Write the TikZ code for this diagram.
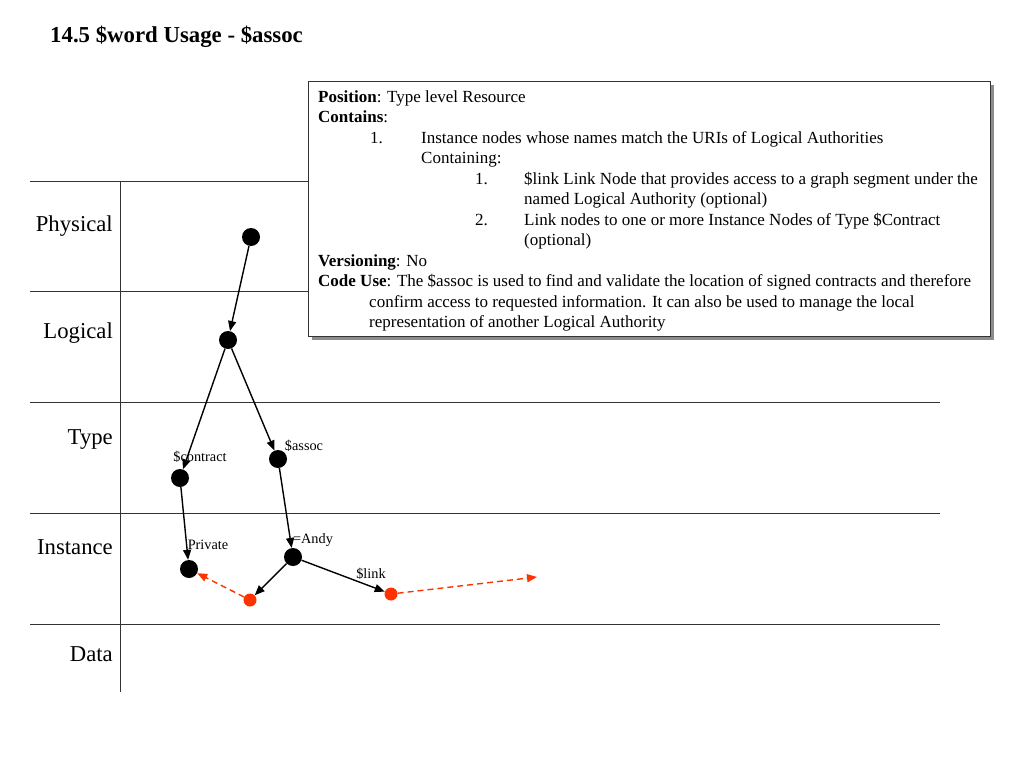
\documentclass[tikz,border=0pt]{standalone}
\usepackage{fontspec}
\setmainfont{Liberation Serif}
\usetikzlibrary{arrows.meta}
\definecolor{redn}{HTML}{FF3300}
\begin{document}
\begin{tikzpicture}[x=1pt,y=-1pt,
  lane/.style={draw=black!80,line width=0.9pt},
  lanelabel/.style={anchor=east,inner sep=0pt,font=\fontsize{22.7}{26}\selectfont},
  dot/.style={circle,fill=black,inner sep=0pt,minimum size=18pt},
  rdot/.style={circle,fill=redn,inner sep=0pt,minimum size=13pt},
  edge/.style={draw=black,line width=1.4pt,-{Triangle[length=10pt,width=8pt]}},
  redge/.style={draw=redn,line width=1.4pt,dash pattern=on 6pt off 4pt,-{Triangle[length=10pt,width=8pt]}},
  small/.style={font=\fontsize{14.3}{16}\selectfont,inner sep=0pt},
  bt/.style={anchor=base west,inner sep=0pt,font=\fontsize{17}{20}\selectfont}]
\useasboundingbox (0,0) rectangle (1024,768);
\fill[white] (0,0) rectangle (1024,768);
\node[anchor=base west,inner sep=0pt,font=\bfseries\fontsize{22.8}{26}\selectfont] (title) at (50,43) {14.5 \$word Usage - \$assoc};
% lanes
\foreach \yy in {181,291,402,513,624} \draw[lane] (30,\yy) -- (940,\yy);
\draw[lane] (120,181) -- (120,692);
\node[lanelabel] (lp) at (113,226) {Physical};
\node[lanelabel] (ll) at (113,333) {Logical};
\node[lanelabel] (lt) at (113,440) {Type};
\node[lanelabel] (li) at (113,547) {Instance};
\node[lanelabel] (ld) at (113,654) {Data};
% box
\fill[black!45] (312,85) rectangle (994,340);
\draw[fill=white,draw=black!80,line width=1pt] (308,81) rectangle (990,336);
\node[bt] (t1) at (318,102) {\textbf{Position}: Type level Resource};
\node[bt] (t2) at (318,122.5) {\textbf{Contains}:};
\node[bt] (t3a) at (370,143) {1.};
\node[bt] (t3) at (421,143) {Instance nodes whose names match the URIs of Logical Authorities};
\node[bt] (t4) at (421,163.5) {Containing:};
\node[bt] (t5a) at (475,184) {1.};
\node[bt] (t5) at (524,184) {\$link Link Node that provides access to a graph segment under the};
\node[bt] (t6) at (524,204.5) {named Logical Authority (optional)};
\node[bt] (t7a) at (475,225) {2.};
\node[bt] (t7) at (524,225) {Link nodes to one or more Instance Nodes of Type \$Contract};
\node[bt] (t8) at (524,245.5) {(optional)};
\node[bt] (t9) at (318,266) {\textbf{Versioning}: No};
\node[bt] (t10) at (318,286.5) {\textbf{Code Use}: The \$assoc is used to find and validate the location of signed contracts and therefore};
\node[bt] (t11) at (369,307) {confirm access to requested information. It can also be used to manage the local};
\node[bt] (t12) at (369,327.5) {representation of another Logical Authority};
% graph nodes
\node[dot] (P) at (251,237) {};
\node[dot] (L) at (228,340) {};
\node[dot] (C) at (180,478) {};
\node[dot] (A) at (278,459) {};
\node[dot] (Pr) at (189,569) {};
\node[dot] (An) at (293,557) {};
\node[rdot] (R1) at (250,600) {};
\node[rdot] (R2) at (391,594) {};
\coordinate (E) at (537,577);
\node[small] (lc) at (200,457) {\$contract};
\node[small] (la) at (304,446) {\$assoc};
\node[small] (lpr) at (208,545) {Private};
\node[small] (lan) at (313,540) {=Andy};
\node[small] (lk) at (371,574) {\$link};
\draw[edge] (P) -- (L);
\draw[edge] (L) -- (C);
\draw[edge] (L) -- (A);
\draw[edge] (C) -- (Pr);
\draw[edge] (A) -- (An);
\draw[edge] (An) -- (R1);
\draw[edge] (An) -- (R2);
\draw[redge] (R1) -- (Pr);
\draw[redge] (R2) -- (E);
\end{tikzpicture}
\end{document}
